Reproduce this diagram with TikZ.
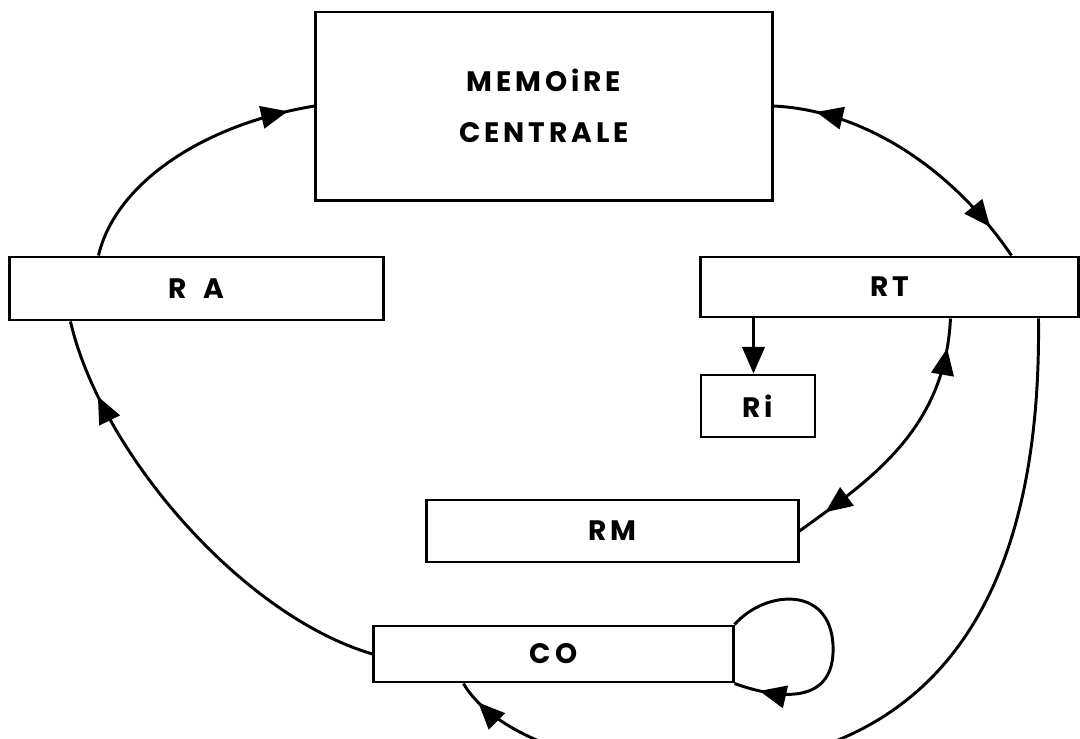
\documentclass[tikz,border=0pt]{standalone}
\usepackage{fontspec}
\setmainfont{Poppins}
\usetikzlibrary{arrows.meta,calc,decorations.markings}

\begin{document}
\begin{tikzpicture}[x=0.025cm,y=-0.025cm,
	reg/.style={draw,line width=2.1pt,inner sep=0pt,align=center,
		font=\fontsize{20}{36}\selectfont\bfseries\addfontfeature{LetterSpace=14}},
	flow/.style={line width=2.1pt},
	tipat/.style={postaction={decorate,decoration={markings,
		mark=at position #1 with {\arrow{Triangle[length=19pt,width=16pt]}}}}},
	tipback/.style={postaction={decorate,decoration={markings,
		mark=at position #1 with {\arrowreversed{Triangle[length=19pt,width=16pt]}}}}}]

\useasboundingbox (0,0) rectangle (1080,738);
\fill[white] (0,0) rectangle (1080,738);
\clip (0,0) rectangle (1080,738);

\node[reg,minimum width=11.4cm,minimum height=4.7cm] (MC) at (544,106) {MEMOiRE\\CENTRALE};
\node[reg,minimum width=9.325cm,minimum height=1.575cm] (RA) at (196.5,288.5) {R\hspace{0.6em}A};
\node[reg,minimum width=9.425cm,minimum height=1.5cm] (RT) at (889.5,287) {RT};
\node[reg,minimum width=2.85cm,minimum height=1.55cm] (Ri) at (758,406) {Ri};
\node[reg,minimum width=9.275cm,minimum height=1.55cm] (RM) at (612.5,531) {RM};
\node[reg,minimum width=8.975cm,minimum height=1.4cm] (CO) at (553.5,654) {CO};

\coordinate (RAtop) at ($(RA.north west)+(90,0)$);
\coordinate (RAbot) at ($(RA.south west)+(62,0)$);
\coordinate (RTtop) at ($(RT.north west)+(312,0)$);
\coordinate (RTleft) at ($(RT.south west)+(54,0)$);
\coordinate (RTmid) at ($(RT.south west)+(251,0)$);
\coordinate (RTright) at ($(RT.south west)+(339,0)$);
\coordinate (CObot) at ($(CO.south west)+(91,0)$);

\draw[flow,tipat=-0.68cm] (RAtop) .. controls (115,185) and (200,125) .. (MC.west);
\draw[flow,tipback=1.08cm,tipat=-0.89cm] (MC.east) .. controls (860,110) and (950,165) .. (RTtop);
\draw[flow,-{Triangle[length=19pt,width=16pt]}] (RTleft) -- (RTleft |- Ri.north);
\draw[flow,tipback=0.75cm,tipat=-0.8cm] (RTmid) .. controls (945,430) and (870,480) .. (RM.east);
\draw[flow,tipat=-0.6cm] (RTright) .. controls (1042,620) and (920,768) .. (680,768)
	.. controls (580,768) and (490,730) .. (CObot);
\draw[flow,tipat=-0.65cm] (CO.north east) .. controls (765,590) and (830,585) .. (833,645)
	.. controls (836,705) and (780,700) .. (CO.south east);
\draw[flow,tipat=-2cm] (CO.west) .. controls (240,615) and (100,450) .. (RAbot);

\end{tikzpicture}
\end{document}
